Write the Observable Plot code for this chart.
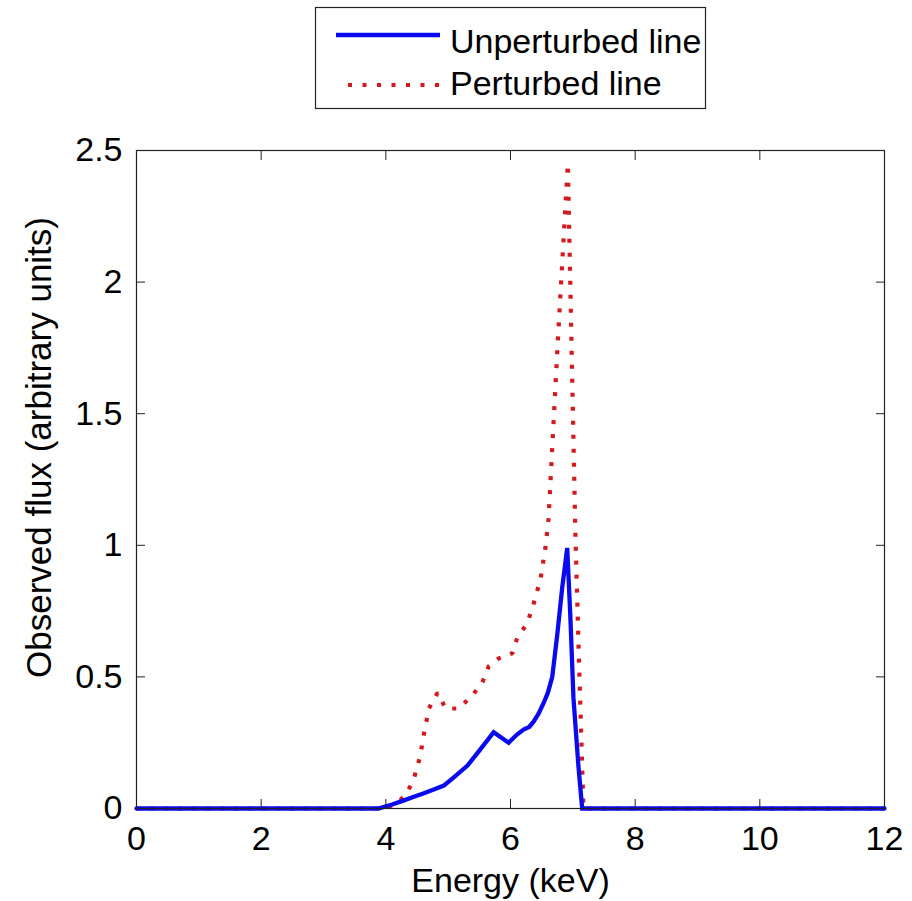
<!DOCTYPE html>
<html>
<head>
<meta charset="utf-8">
<script src="https://cdn.jsdelivr.net/npm/d3@7"></script>
<script src="https://cdn.jsdelivr.net/npm/@observablehq/plot@0.6"></script>
<style>
  body { margin: 0; background: #fff; font-family: "Liberation Sans", Arial, sans-serif; }
  #wrap { position: relative; width: 912px; height: 901px; overflow: hidden; }
  #legend { position: absolute; left: 0; top: 0; z-index: 2; }
  #chart { position: absolute; left: 0; top: 0; z-index: 1; }
</style>
</head>
<body>
<div id="wrap">
  <div id="chart"></div>
  <svg id="legend" width="912" height="120"></svg>
</div>
<script>
// ---- data ----
const seriesNames = ["Unperturbed line", "Perturbed line"];
const seriesColors = ["#0a0af0", "#d41a1e"];

const energyUnperturbed = [0, 3.88, 4.1, 4.28, 4.45, 4.6, 4.8, 4.93, 5.1, 5.31, 5.5, 5.73, 5.85, 5.97, 6.1, 6.21, 6.3, 6.37, 6.45, 6.53, 6.6, 6.67, 6.75, 6.83, 6.91, 6.96, 7.01, 7.09, 7.15, 12];
const fluxUnperturbed   = [0, 0, 0.015, 0.03, 0.045, 0.057, 0.075, 0.087, 0.12, 0.163, 0.22, 0.29, 0.27, 0.25, 0.28, 0.30, 0.31, 0.33, 0.36, 0.40, 0.44, 0.50, 0.66, 0.84, 0.99, 0.73, 0.42, 0.16, 0, 0];

const energyPerturbed = [0, 4.0, 4.2, 4.31, 4.43, 4.51, 4.56, 4.6, 4.65, 4.69, 4.83, 4.96, 5.17, 5.39, 5.55, 5.65, 5.81, 6.03, 6.11, 6.26, 6.35, 6.48, 6.56, 6.61, 6.76, 6.92, 6.98, 7.04, 7.1, 7.17, 12];
const fluxPerturbed   = [0, 0, 0.025, 0.05, 0.1, 0.16, 0.21, 0.27, 0.33, 0.38, 0.44, 0.38, 0.38, 0.43, 0.48, 0.54, 0.57, 0.59, 0.65, 0.70, 0.76, 0.87, 0.99, 1.10, 1.78, 2.45, 1.75, 1.05, 0.55, 0, 0];

const xTicks = [0, 2, 4, 6, 8, 10, 12];
const yTicks = [0, 0.5, 1, 1.5, 2, 2.5];
const xLabel = "Energy (keV)";
const yLabel = "Observed flux (arbitrary units)";

// ---- tables ----
const unperturbed = energyUnperturbed.map((e, i) => ({energy: e, flux: fluxUnperturbed[i]}));
const perturbed = energyPerturbed.map((e, i) => ({energy: e, flux: fluxPerturbed[i]}));

const font = "'Liberation Sans', Arial, Helvetica, sans-serif";
const fmt = d3.format("~g");

const chart = Plot.plot({
  width: 912,
  height: 901,
  marginLeft: 136,
  marginRight: 28,
  marginTop: 150,
  marginBottom: 93,
  x: {domain: [0, 12]},
  y: {domain: [0, 2.5]},
  style: {fontFamily: font, fontSize: "34px", color: "#000", background: "#fff", overflow: "visible"},
  marks: [
    Plot.line(perturbed, {x: "energy", y: "flux", stroke: seriesColors[1], strokeWidth: 4.2,
      strokeDasharray: "4,10", strokeLinecap: "butt", strokeLinejoin: "miter"}),
    Plot.line(unperturbed, {x: "energy", y: "flux", stroke: seriesColors[0], strokeWidth: 4.3,
      strokeLinejoin: "miter", strokeMiterlimit: 10}),
    Plot.frame({stroke: "#222", strokeWidth: 1.2}),
    Plot.axisX({anchor: "bottom", ticks: xTicks, tickSize: -9, tickPadding: 26, tickFormat: fmt,
      label: null, fontSize: 34, stroke: "#222"}),
    Plot.axisX({anchor: "top", ticks: xTicks, tickSize: -9, tickFormat: () => "", label: null, stroke: "#222"}),
    Plot.axisY({anchor: "left", ticks: yTicks, tickSize: -9, tickPadding: 23, tickFormat: fmt,
      label: null, fontSize: 34, stroke: "#222"}),
    Plot.axisY({anchor: "right", ticks: yTicks, tickSize: -9, tickFormat: () => "", label: null, stroke: "#222"}),
    Plot.text([xLabel], {frameAnchor: "bottom", dy: 73, lineAnchor: "middle", textAnchor: "middle",
      fontSize: 34, fill: "#000"}),
    Plot.text([yLabel], {frameAnchor: "left", rotate: -90, dx: -97, dy: -32, lineAnchor: "middle",
      textAnchor: "middle", fontSize: 35, fill: "#000", style: "letter-spacing:1.5px"})
  ]
});
document.getElementById("chart").append(chart);

// ---- legend ----
const lg = d3.select("#legend");
lg.append("rect").attr("x", 315.5).attr("y", 7.5).attr("width", 390).attr("height", 101)
  .attr("fill", "#fff").attr("stroke", "#222").attr("stroke-width", 1.2);
const rows = [35, 85];
seriesNames.forEach((name, i) => {
  const ln = lg.append("line").attr("x1", 336).attr("x2", 440).attr("y1", rows[i]).attr("y2", rows[i])
    .attr("stroke", seriesColors[i]).attr("stroke-width", i === 0 ? 4.3 : 4.2);
  if (i === 1) ln.attr("stroke-dasharray", "4,10.5").attr("x1", 348);
  lg.append("text").attr("x", 450).attr("y", rows[i] + (i === 0 ? 6 : -2)).attr("dy", "0.35em")
    .attr("font-family", font).attr("font-size", 34).attr("fill", "#000").text(name);
});
</script>
</body>
</html>
